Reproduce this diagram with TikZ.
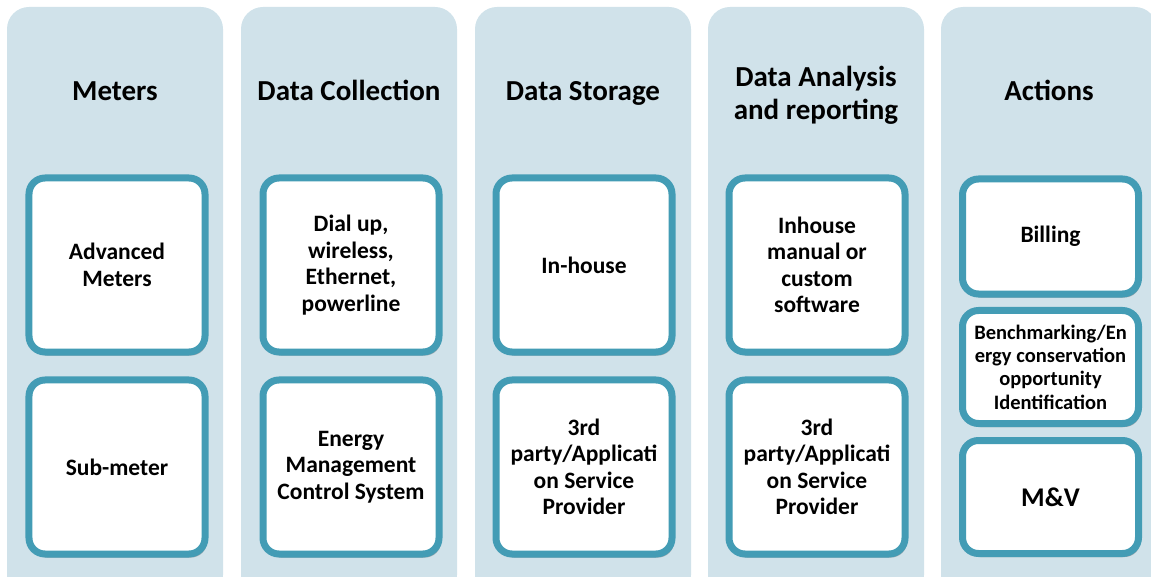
\documentclass[tikz,border=0pt]{standalone}
\usepackage{fontspec}
\setmainfont{Carlito}
\usetikzlibrary{shadows}
\definecolor{panelfill}{HTML}{D0E2EA}
\definecolor{boxline}{HTML}{439CB5}
\tikzset{
  panel/.style={fill=panelfill, rounded corners=22bp, minimum width=216bp, minimum height=590bp, anchor=north west, inner sep=0pt, outer sep=0pt},
  ttl/.style={font=\bfseries\fontsize{29bp}{33bp}\selectfont, align=center, text=black},
  ttlone/.style={ttl, anchor=base},
  tallbox/.style={draw=boxline, line width=7bp, fill=white, rounded corners=16bp, minimum width=176bp, minimum height=174bp, inner sep=0pt, align=center, font=\bfseries\fontsize{23.5bp}{26.5bp}\selectfont,
    drop shadow={shadow xshift=2bp, shadow yshift=-3.5bp, opacity=0.4, fill=black!70}},
  shortbox/.style={tallbox, minimum height=115bp}
}
\begin{document}
\begin{tikzpicture}[x=1bp,y=-1bp]
\useasboundingbox (0,0) rectangle (1151,577);
% panels
\node[panel] (p1) at (7,7) {};
\node[panel] (p2) at (241,7) {};
\node[panel] (p3) at (475,7) {};
\node[panel] (p4) at (708,7) {};
\node[panel] (p5) at (941,7) {};
% titles
\node[ttlone] (t1) at (115,101) {Meters};
\node[ttlone] (t2) at (349,101) {Data Collection};
\node[ttlone] (t3) at (583,101) {Data Storage};
\node[ttl] (t4) at (816,95) {Data Analysis\\and reporting};
\node[ttlone] (t5) at (1049,101) {Actions};
% column 1
\node[tallbox] (a1) at (117,265) {Advanced\\Meters};
\node[tallbox] (a2) at (117,467) {Sub-meter};
% column 2
\node[tallbox] (b1) at (351,265) {Dial up,\\wireless,\\Ethernet,\\powerline};
\node[tallbox] (b2) at (351,467) {Energy\\Management\\Control System};
% column 3
\node[tallbox] (c1) at (584,265) {In-house};
\node[tallbox] (c2) at (584,467) {3rd\\party/Applicati\\on Service\\Provider};
% column 4
\node[tallbox] (d1) at (817,265) {Inhouse\\manual or\\custom\\software};
\node[tallbox] (d2) at (817,467) {3rd\\party/Applicati\\on Service\\Provider};
% column 5
\node[shortbox] (e1) at (1050.5,236.5) {Billing};
\node[shortbox, minimum height=113bp, font=\bfseries\fontsize{20.5bp}{23.3bp}\selectfont] (e2) at (1050.5,367) {Benchmarking/En\\ergy conservation\\opportunity\\Identification};
\node[shortbox, minimum height=113bp, font=\bfseries\fontsize{27bp}{30bp}\selectfont] (e3) at (1050.5,497) {M\&V};
\end{tikzpicture}
\end{document}
